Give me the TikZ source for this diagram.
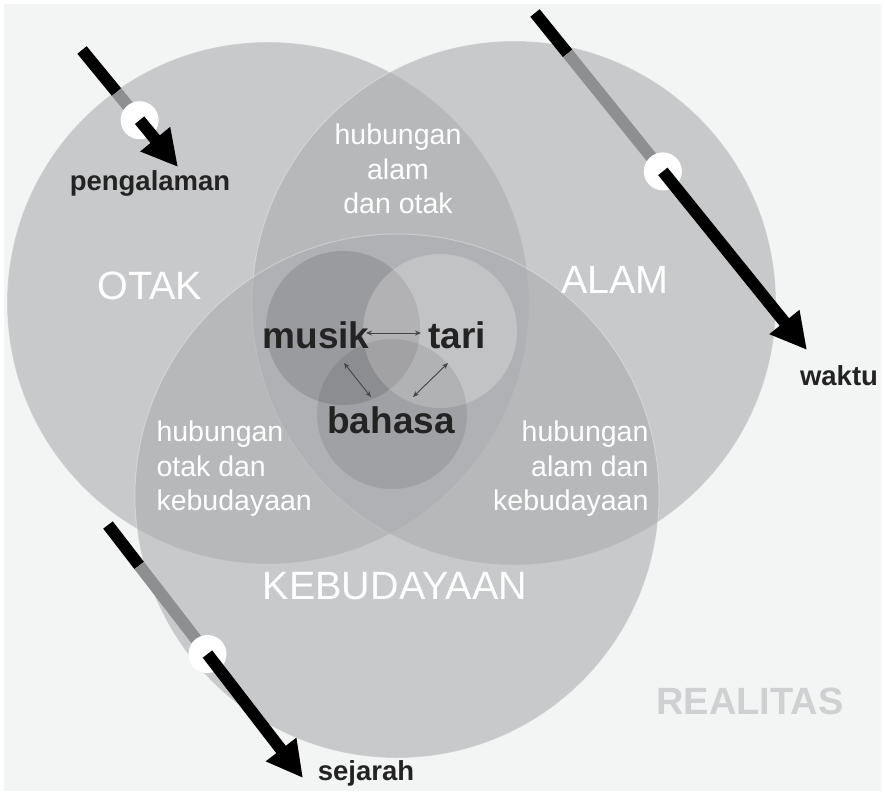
\documentclass[tikz,border=0pt]{standalone}
\usepackage{fontspec}
\setmainfont{Liberation Sans}
\usepackage{tikz}
\usetikzlibrary{calc,arrows.meta}
\definecolor{paper}{HTML}{F3F4F4}
\definecolor{disc}{HTML}{ACADB0}
\definecolor{ink}{HTML}{232323}
\definecolor{faint}{HTML}{CFD0D2}
\definecolor{bar}{HTML}{8E8F91}
\tikzset{
  bigdisc/.style={fill=disc, fill opacity=0.6, draw=white, draw opacity=0.3, line width=1pt},
  darkdisc/.style={fill=black, fill opacity=#1},
  litedisc/.style={fill=white, fill opacity=0.24},
  barblack/.style={draw=black, line width=12pt},
  bargrey/.style={draw=bar, line width=12pt},
  hole/.style={circle, fill=white, minimum size=38pt, inner sep=0pt},
  flow/.style={draw=black, line width=12pt, -{Triangle[length=36pt,width=36pt]}},
  link/.style={draw=ink!85, line width=0.9pt, {Stealth[length=6pt,width=5pt]}-{Stealth[length=6pt,width=5pt]}},
  capw/.style={text=white, font=\fontsize{39.5}{44}\selectfont},
  labw/.style={text=white, align=#1, font=\fontsize{28.5}{34.5}\selectfont},
  labk/.style={text=ink, font=\bfseries\fontsize{27.5}{32}\selectfont},
  inner/.style={text=ink, font=\bfseries\fontsize{37}{42}\selectfont}
}
\begin{document}
\begin{tikzpicture}[x=1pt, y=-1pt]
  \useasboundingbox (0,0) rectangle (885,795);
  \fill[white] (0,0) rectangle (885,795);
  \fill[paper] (4,4) rectangle (881,791);

  % the three realms
  \coordinate (otak) at (268,303);
  \coordinate (alam) at (514,303);
  \coordinate (budaya) at (397,496);
  \path[bigdisc] (otak) circle [radius=261pt];
  \path[bigdisc] (alam) circle [radius=262pt];
  \path[bigdisc] (budaya) circle [radius=262pt];

  % the arts in the middle
  \coordinate (musikc) at (343,328);
  \coordinate (taric) at (440,331);
  \coordinate (bahasac) at (392,414);
  \fill[darkdisc=0.12] (musikc) circle [radius=77pt];
  \fill[litedisc] (taric) circle [radius=77pt];
  \fill[darkdisc=0.085] (bahasac) circle [radius=75pt];

  \node[capw] (otakl) at (150,286) {OTAK};
  \node[capw] (alaml) at (615,280) {ALAM};
  \node[capw] (budayal) at (395,586) {KEBUDAYAAN};
  \node[capw, text=faint, font=\bfseries\fontsize{38}{44}\selectfont] (realitas) at (750,701) {REALITAS};

  \node[labw=center] (oa) at (398,169) {hubungan\\alam\\dan otak};
  \node[labw=left, anchor=west] (ok) at (153,469) {hubungan\\otak dan\\kebudayaan};
  \node[labw=right, anchor=east] (ak) at (652,469) {hubungan\\alam dan\\kebudayaan};

  \node[inner] (musik) at (316,335) {musik};
  \node[inner] (tari) at (457,335) {tari};
  \node[inner] (bahasa) at (391,420) {bahasa};
  \coordinate (mt1) at (366,333);
  \coordinate (mt2) at (421,333);
  \coordinate (mb1) at (344,363);
  \coordinate (mb2) at (371,397);
  \coordinate (tb1) at (448,363);
  \coordinate (tb2) at (413,397);
  \draw[link] (mt1) -- (mt2);
  \draw[link] (mb1) -- (mb2);
  \draw[link] (tb1) -- (tb2);

  % pengalaman
  \coordinate (peng-s) at (82,50);
  \coordinate (peng-t) at (178,167);
  \coordinate (peng-g) at ($(peng-s)!0.36!(peng-t)$);
  \coordinate (peng-c) at ($(peng-s)!0.6!(peng-t)$);
  \draw[barblack] (peng-s) -- (peng-g);
  \draw[bargrey] (peng-g) -- (peng-c);
  \node[hole] (peng-o) at (peng-c) {};
  \draw[flow] (peng-c) -- (peng-t);
  \node[labk] (pengl) at (150,183) {pengalaman};

  % waktu
  \coordinate (wak-s) at (535,13);
  \coordinate (wak-t) at (807,350);
  \coordinate (wak-g) at ($(wak-s)!0.12!(wak-t)$);
  \coordinate (wak-c) at ($(wak-s)!0.47!(wak-t)$);
  \draw[barblack] (wak-s) -- (wak-g);
  \draw[bargrey] (wak-g) -- (wak-c);
  \node[hole] (wak-o) at (wak-c) {};
  \draw[flow] (wak-c) -- (wak-t);
  \node[labk] (wakl) at (839,376) {waktu};

  % sejarah
  \coordinate (sej-s) at (108,525);
  \coordinate (sej-t) at (303,778);
  \coordinate (sej-g) at ($(sej-s)!0.16!(sej-t)$);
  \coordinate (sej-c) at ($(sej-s)!0.51!(sej-t)$);
  \draw[barblack] (sej-s) -- (sej-g);
  \draw[bargrey] (sej-g) -- (sej-c);
  \node[hole] (sej-o) at (sej-c) {};
  \draw[flow] (sej-c) -- (sej-t);
  \node[labk] (sejl) at (366,773) {sejarah};
\end{tikzpicture}
\end{document}
